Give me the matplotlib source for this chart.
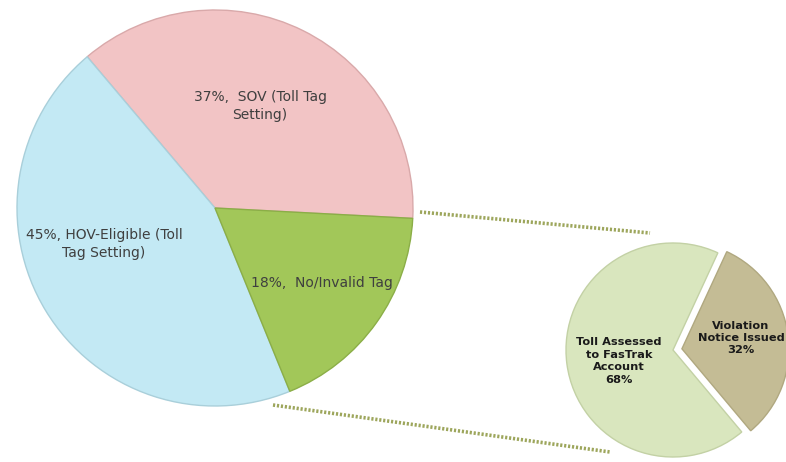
import matplotlib.pyplot as plt
from matplotlib.lines import Line2D

# main pie
main_labels = ['37%,  SOV (Toll Tag\nSetting)', '45%, HOV-Eligible (Toll\nTag Setting)', '18%,  No/Invalid Tag']
main_values = [37, 45, 18]
main_colors = ['#F2C4C5', '#C3E9F4', '#A2C759']
main_edges = ['#D9A9AA', '#A9CFDA', '#8BAE47']

# breakout of the no/invalid tag slice
sub_labels = ['Violation\nNotice Issued\n32%', 'Toll Assessed\nto FasTrak\nAccount\n68%']
sub_values = [32, 68]
sub_colors = ['#C4BC95', '#D9E6BE']
sub_edges = ['#B0A880', '#C3D1A5']

W, H = 786, 462
fig = plt.figure(figsize=(W / 100, H / 100), dpi=100)
ax = fig.add_axes([0, 0, 1, 1])

big_c, big_r = (215, 254), 198
small_c, small_r = (673, 112), 107

ax.pie(main_values, colors=main_colors, startangle=-3, center=big_c, radius=big_r,
       frame=True, wedgeprops=dict(linewidth=1))
wedges = ax.patches[:]
for w, ec in zip(wedges, main_edges):
    w.set_edgecolor(ec)

# explode is in data units here (pixels)
ax.pie(sub_values, colors=sub_colors, startangle=-50, center=small_c, radius=small_r,
       explode=[9, 0], frame=True, wedgeprops=dict(linewidth=1))
for w, ec in zip(ax.patches[len(wedges):], sub_edges):
    w.set_edgecolor(ec)

# dotted connectors
ax.add_line(Line2D([420, 650], [H - 212, H - 233], color='#9DA65C', lw=2.6,
                   linestyle=(0, (0.6, 0.5)), zorder=0))
ax.add_line(Line2D([273, 610], [H - 405, H - 452], color='#9DA65C', lw=2.6,
                   linestyle=(0, (0.6, 0.5)), zorder=0))

txt = dict(fontsize=10, color='#3F3F3F', ha='center', va='center', linespacing=1.3)
ax.text(260, H - 106, main_labels[0], **txt)
ax.text(104, H - 244, main_labels[1], **txt)
ax.text(322, H - 283, main_labels[2], **txt)

stxt = dict(fontsize=8.2, color='#1A1A1A', ha='center', va='center', fontweight='bold',
            linespacing=1.3)
ax.text(741, H - 338, sub_labels[0], **stxt)
ax.text(619, H - 361, sub_labels[1], **stxt)

ax.set_xlim(0, W)
ax.set_ylim(0, H)
ax.set_aspect('auto')
ax.axis('off')

fig.savefig('out.png', dpi=100)
